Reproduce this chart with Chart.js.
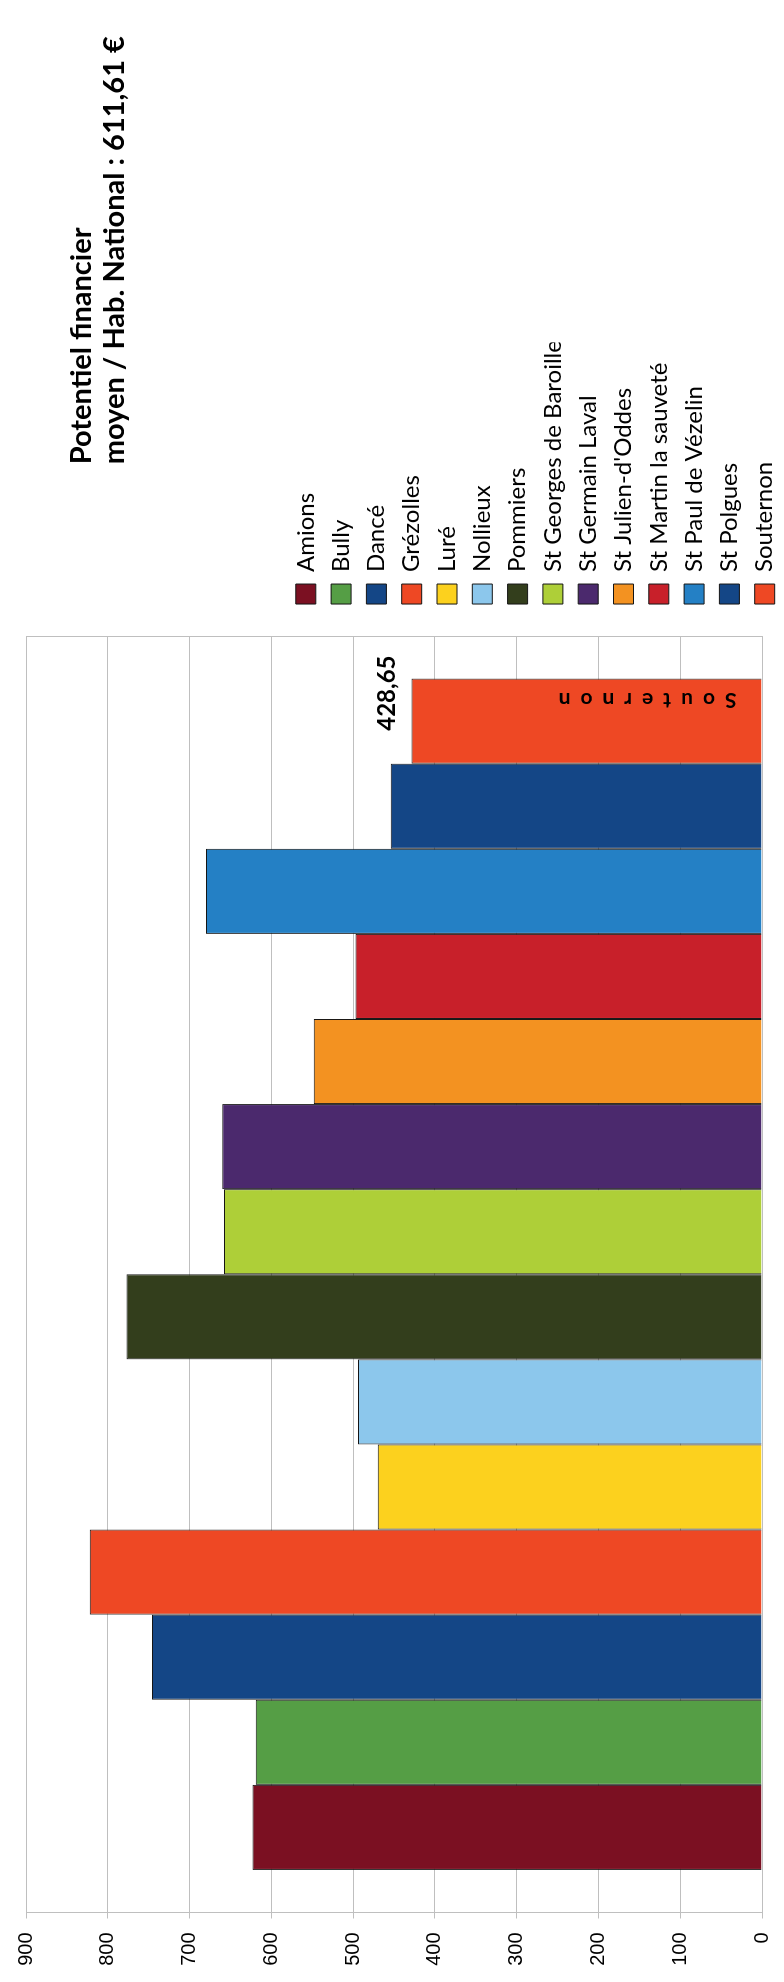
<!DOCTYPE html>
<html>
<head>
<meta charset="utf-8">
<script src="https://cdn.jsdelivr.net/npm/chart.js@4.4.0/dist/chart.umd.min.js"></script>
<style>
    html, body { margin: 0; padding: 0; background: #fff; overflow: hidden; }
    /* le graphique est dessiné "couché" puis tourné de 90° */
    #cadre {
        position: absolute; left: 0; top: 0;
        width: 1982px; height: 788px;
        transform-origin: 0 0;
        transform: translate(0, 1982px) rotate(-90deg);
    }
</style>
</head>
<body>
<div id="cadre"><canvas id="grafico" width="1982" height="788"></canvas></div>
<script>
const communes = ['Amions', 'Bully', 'Dancé', 'Grézolles', 'Luré', 'Nollieux', 'Pommiers',
    'St Georges de Baroille', 'St Germain Laval', "St Julien-d'Oddes", 'St Martin la sauveté',
    'St Paul de Vézelin', 'St Polgues', 'Souternon']
const valeurs = [623, 619, 746, 822, 470, 494, 777, 658, 660, 548, 497, 680, 454, 428.65]
const couleurs = ['#7b1022', '#559e45', '#144686', '#ee4824', '#fcd11e', '#8cc7ec', '#333e1c',
    '#aecf38', '#4b296d', '#f39221', '#c8202a', '#2480c5', '#144686', '#ee4824']
const titre = ['Potentiel financier', 'moyen / Hab. National : 611,61 €']
const etiquette = '428,65'      // valeur affichée sur la dernière barre
const nomDansBarre = 'Souternon'

const policeLegende = 24
const espaceLegende = 11.3
const gaucheLegende = 1378 - espaceLegende   // bord gauche voulu de la legende
const gaucheZone = 69.5                      // bord gauche voulu de la zone du graphique
const hautZone = 18                          // ligne 900
const basZone = 774                          // ligne 0
let hauteurX = 14

let datos = []
for (var i = 0; i < communes.length; i++) {
    datos.push({
        label: communes[i],
        data: [valeurs[i]],
        backgroundColor: couleurs[i],
        borderColor: '#151515',
        borderWidth: 1,
        barPercentage: 1,
        categoryPercentage: 0.9333
    })
}

// titre à droite, au dessus de la legende
const pluginTitre = {
    id: 'titre',
    afterDraw(chart) {
        const ctx = chart.ctx
        const x0 = chart.legend.left + 151
        ctx.save()
        ctx.font = 'bold 29px Lato'
        ctx.fillStyle = '#000'
        ctx.textAlign = 'left'
        ctx.textBaseline = 'alphabetic'
        ctx.fillText(titre[0], x0, 91)
        ctx.fillText(titre[1], x0, 124)
        ctx.restore()
    }
}

// étiquettes sur la barre Souternon
const pluginEtiquette = {
    id: 'etiquette',
    afterDatasetsDraw(chart) {
        const ctx = chart.ctx
        const meta = chart.getDatasetMeta(communes.length - 1)
        const barre = meta.data[0]
        ctx.save()
        ctx.fillStyle = '#000'
        ctx.font = 'bold 24px Lato'
        ctx.textAlign = 'center'
        ctx.textBaseline = 'alphabetic'
        ctx.fillText(etiquette, barre.x + 28, barre.y - 16)

        // nom écrit à la verticale dans la barre
        ctx.translate(barre.x + 21, barre.base - 114)
        ctx.rotate(-Math.PI / 2)
        ctx.font = 'bold 21px Lato'
        ctx.letterSpacing = '10px'
        ctx.textBaseline = 'middle'
        ctx.fillText(nomDansBarre, 5, 0)
        ctx.restore()
    }
}

const data = {
    labels: [''],
    datasets: datos
}

const options = {
    responsive: false,
    animation: false,
    layout: {
        padding: { left: 16, right: 360, top: 18, bottom: 0 }
    },
    scales: {
        x: {
            grid: { display: true, offset: true, drawTicks: false, color: '#bfbfbf' },
            ticks: { display: false },
            border: { display: false },
            afterFit: s => { s.height = hauteurX }
        },
        y: {
            min: 0,
            max: 900,
            ticks: {
                stepSize: 100,
                padding: 14,
                color: '#000',
                font: { family: 'Liberation Sans', size: 20 }
            },
            grid: { color: '#bfbfbf', tickLength: 6 },
            border: { display: true, color: '#bfbfbf' }
        },
        y2: {
            position: 'right',
            display: true,
            grid: { display: false },
            ticks: { display: false },
            border: { display: false },
            afterFit: s => { s.width = 20.7 }
        }
    },
    plugins: {
        legend: {
            display: true,
            position: 'right',
            align: 'end',
            labels: {
                boxWidth: 20,
                boxHeight: 20,
                padding: espaceLegende,
                color: '#000',
                font: { family: 'Lato', size: policeLegende }
            }
        },
        tooltip: { enabled: false }
    }
}

const ctx = document.getElementById('grafico').getContext('2d')
const mychar = new Chart(ctx, { type: 'bar', data, options, plugins: [pluginTitre, pluginEtiquette] })

// recaler la legende et la zone du graphique sur le modèle
for (let k = 0; k < 4; k++) {
    const zone = mychar.chartArea
    mychar.options.layout.padding.right += mychar.legend.left - gaucheLegende
    mychar.options.layout.padding.left += gaucheZone - zone.left
    mychar.options.layout.padding.top += hautZone - zone.top
    hauteurX = Math.max(0, hauteurX + zone.bottom - basZone)
    mychar.update()
}
</script>
</body>
</html>
